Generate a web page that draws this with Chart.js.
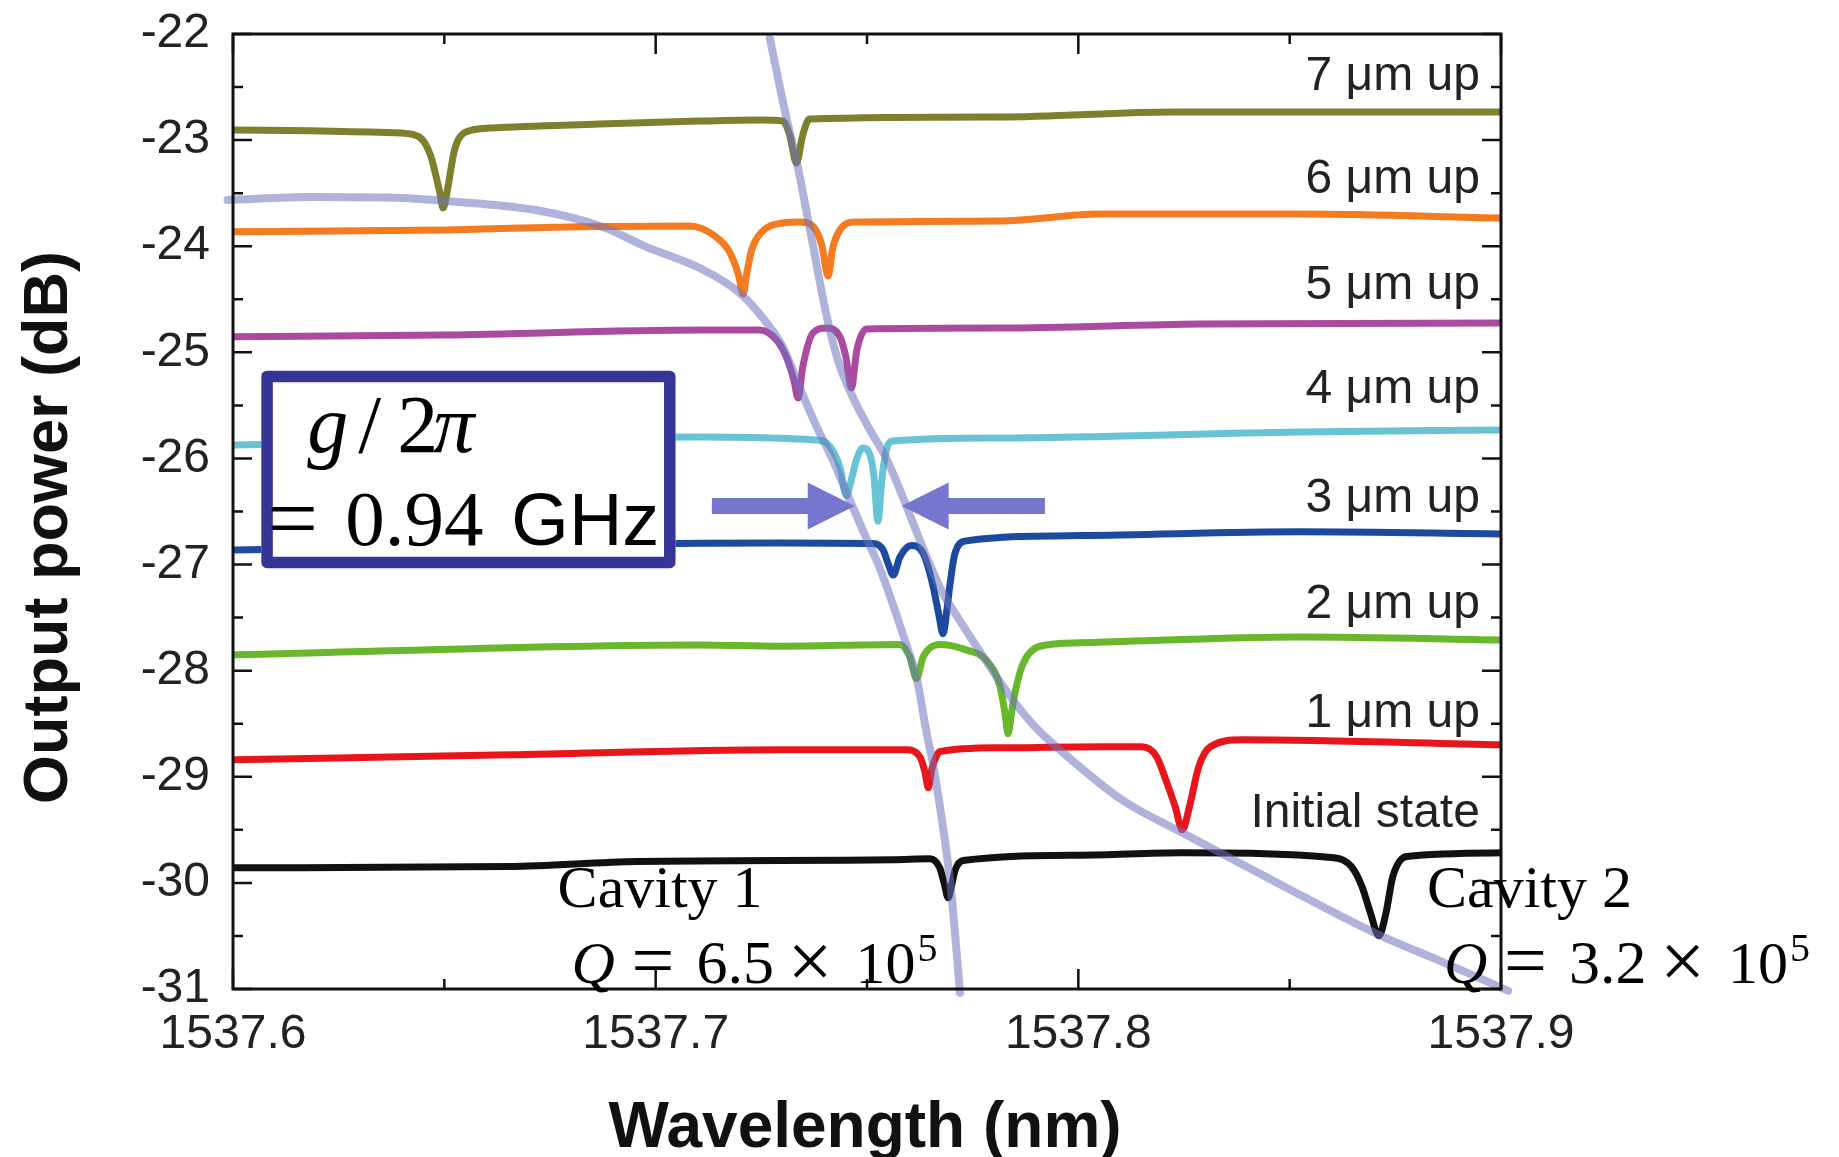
<!DOCTYPE html>
<html>
<head>
<meta charset="utf-8">
<title>Output power vs wavelength</title>
<script src="https://cdn.jsdelivr.net/npm/chart.js@4.4.1/dist/chart.umd.min.js"></script>
<style>
  html, body { margin: 0; padding: 0; background: #fff; }
  canvas { display: block; }
</style>
</head>
<body>
<canvas id="spectraChart" width="1839" height="1157"></canvas>
<script>
// Axis ticks
const xTicks = [1537.6, 1537.7, 1537.8, 1537.9];
const xMinorTicks = [1537.65, 1537.75, 1537.85];
const yTicks = [-31, -30, -29, -28, -27, -26, -25, -24, -23, -22];
const yMinorTicks = [-30.5, -29.5, -28.5, -27.5, -26.5, -25.5, -24.5, -23.5, -22.5];

// Trace names, top to bottom, and where each name sits (dB)
const traceNames = ['7 μm up', '6 μm up', '5 μm up', '4 μm up', '3 μm up', '2 μm up', '1 μm up', 'Initial state'];
const nameLevels = [-22.53, -23.5, -24.5, -25.48, -26.5, -27.5, -28.53, -29.47];

// Transmission spectra (wavelength nm / output dB)
const wl7 = [1537.6000, 1537.6399, 1537.6441, 1537.6467, 1537.6489, 1537.6497, 1537.6508, 1537.6524, 1537.6550, 1537.6609, 1537.6867, 1537.7104, 1537.7246, 1537.7301, 1537.7317, 1537.7333, 1537.7348, 1537.7364, 1537.7814, 1537.8226, 1537.9000];
const db7 = [-22.905, -22.934, -22.971, -23.141, -23.489, -23.640, -23.452, -23.094, -22.925, -22.886, -22.849, -22.821, -22.811, -22.821, -22.953, -23.216, -22.953, -22.802, -22.783, -22.736, -22.736];

const wl6 = [1537.6000, 1537.6503, 1537.6820, 1537.7080, 1537.7140, 1537.7175, 1537.7196, 1537.7207, 1537.7215, 1537.7227, 1537.7251, 1537.7301, 1537.7341, 1537.7374, 1537.7393, 1537.7408, 1537.7419, 1537.7436, 1537.7471, 1537.7814, 1537.8051, 1537.8524, 1537.9000];
const db6 = [-23.863, -23.847, -23.816, -23.810, -23.904, -24.055, -24.271, -24.450, -24.271, -24.036, -23.866, -23.781, -23.772, -23.819, -23.989, -24.281, -24.017, -23.847, -23.772, -23.763, -23.697, -23.697, -23.734];

const wl5 = [1537.6000, 1537.6503, 1537.7104, 1537.7246, 1537.7286, 1537.7309, 1537.7327, 1537.7337, 1537.7348, 1537.7372, 1537.7404, 1537.7436, 1537.7450, 1537.7463, 1537.7476, 1537.7499, 1537.7814, 1537.8288, 1537.9000];
const db5 = [-24.853, -24.837, -24.790, -24.790, -24.884, -25.044, -25.261, -25.430, -25.138, -24.818, -24.771, -24.855, -25.044, -25.336, -24.978, -24.780, -24.771, -24.733, -24.724];

const wl4 = [1537.6000, 1537.7104, 1537.7380, 1537.7404, 1537.7436, 1537.7451, 1537.7464, 1537.7475, 1537.7490, 1537.7507, 1537.7516, 1537.7526, 1537.7535, 1537.7546, 1537.7561, 1537.7814, 1537.8524, 1537.9000];
const db4 = [-25.873, -25.797, -25.826, -25.854, -26.080, -26.353, -26.184, -26.014, -25.901, -25.967, -26.155, -26.591, -26.203, -25.920, -25.835, -25.807, -25.750, -25.732];

const wl3 = [1537.6000, 1537.7104, 1537.7294, 1537.7514, 1537.7538, 1537.7551, 1537.7562, 1537.7578, 1537.7605, 1537.7633, 1537.7656, 1537.7670, 1537.7680, 1537.7689, 1537.7696, 1537.7708, 1537.7735, 1537.8004, 1537.8524, 1537.9000];
const db3 = [-26.862, -26.799, -26.796, -26.802, -26.862, -27.003, -27.098, -26.928, -26.821, -26.896, -27.198, -27.474, -27.653, -27.427, -27.198, -26.896, -26.777, -26.727, -26.692, -26.711];

const wl2 = [1537.6000, 1537.7104, 1537.7294, 1537.7578, 1537.7601, 1537.7617, 1537.7633, 1537.7672, 1537.7735, 1537.7783, 1537.7814, 1537.7826, 1537.7834, 1537.7843, 1537.7854, 1537.7869, 1537.7909, 1537.8004, 1537.8524, 1537.9000];
const db2 = [-27.851, -27.757, -27.770, -27.753, -27.870, -28.074, -27.870, -27.753, -27.804, -27.905, -28.140, -28.388, -28.595, -28.369, -28.140, -27.936, -27.770, -27.738, -27.682, -27.710];

const wl1 = [1537.6000, 1537.6654, 1537.7294, 1537.7593, 1537.7625, 1537.7637, 1537.7645, 1537.7653, 1537.7660, 1537.7672, 1537.7814, 1537.8051, 1537.8150, 1537.8185, 1537.8207, 1537.8229, 1537.8246, 1537.8263, 1537.8285, 1537.8313, 1537.8386, 1537.9000];
const db1 = [-28.840, -28.793, -28.746, -28.746, -28.812, -28.953, -29.104, -28.935, -28.847, -28.763, -28.727, -28.718, -28.718, -28.809, -29.029, -29.280, -29.500, -29.280, -28.903, -28.715, -28.652, -28.699];

const wl0 = [1537.6000, 1537.6654, 1537.6957, 1537.7561, 1537.7649, 1537.7672, 1537.7683, 1537.7692, 1537.7701, 1537.7708, 1537.7727, 1537.8004, 1537.8245, 1537.8605, 1537.8646, 1537.8671, 1537.8691, 1537.8711, 1537.8728, 1537.8744, 1537.8777, 1537.9000];
const db0 = [-29.858, -29.846, -29.798, -29.782, -29.773, -29.858, -30.009, -30.140, -30.009, -29.886, -29.789, -29.739, -29.717, -29.764, -29.846, -30.034, -30.282, -30.498, -30.282, -29.940, -29.751, -29.717];

// Anticrossing branches traced through the resonance dips
const wlBranchA = [1537.5987, 1537.6186, 1537.6399, 1537.6503, 1537.6716, 1537.6875, 1537.6979, 1537.7104, 1537.7199, 1537.7263, 1537.7301, 1537.7341, 1537.7381, 1537.7419, 1537.7452, 1537.7499, 1537.7530, 1537.7594, 1537.7618, 1537.7641, 1537.7656, 1537.7679, 1537.7696, 1537.7708, 1537.7720];
const dbBranchA = [-23.565, -23.537, -23.546, -23.574, -23.659, -23.819, -24.008, -24.205, -24.441, -24.724, -24.950, -25.336, -25.703, -26.014, -26.325, -26.758, -27.031, -27.766, -28.077, -28.586, -28.878, -29.453, -29.961, -30.461, -31.035];
const wlBranchB = [1537.7270, 1537.7309, 1537.7333, 1537.7364, 1537.7404, 1537.7431, 1537.7464, 1537.7507, 1537.7544, 1537.7578, 1537.7608, 1537.7641, 1537.7679, 1537.7720, 1537.7783, 1537.7845, 1537.7902, 1537.7956, 1537.8103, 1537.8246, 1537.8524, 1537.8711, 1537.8850, 1537.9017];
const dbBranchB = [-22.039, -22.783, -23.188, -23.819, -24.648, -25.072, -25.402, -25.732, -25.986, -26.297, -26.598, -26.928, -27.267, -27.531, -27.917, -28.275, -28.548, -28.746, -29.217, -29.528, -30.112, -30.489, -30.725, -31.017];

// Annotations
const cavityNames = ['Cavity 1', 'Cavity 2'];
const cavityQ = ['6.5', '3.2'];
const couplingText = ['g', '/', '2', 'π', '=', '0.94', 'GHz'];

const SANS = '"Liberation Sans", Arial, sans-serif';
const SERIF = '"Liberation Serif", "Times New Roman", serif';

const spectra = [
  { wl: wl7, db: db7, color: '#7f7f2d' },
  { wl: wl6, db: db6, color: '#f47b20' },
  { wl: wl5, db: db5, color: '#aa4ba0' },
  { wl: wl4, db: db4, color: '#68c3d4' },
  { wl: wl3, db: db3, color: '#1d4a9e' },
  { wl: wl2, db: db2, color: '#69b72d' },
  { wl: wl1, db: db1, color: '#e8161b' },
  { wl: wl0, db: db0, color: '#111111' }
];

const toPoints = (wl, db) => wl.map((x, i) => ({ x: x, y: db[i] }));

const datasets = spectra.map(s => ({
  data: toPoints(s.wl, s.db),
  borderColor: s.color,
  borderWidth: 7,
  pointRadius: 0,
  cubicInterpolationMode: 'monotone',
  order: 1
}));

[[wlBranchA, dbBranchA], [wlBranchB, dbBranchB]].forEach(([wl, db]) => {
  datasets.push({
    data: toPoints(wl, db),
    borderColor: 'rgba(110, 115, 190, 0.55)',
    borderWidth: 8,
    pointRadius: 0,
    cubicInterpolationMode: 'monotone',
    clip: false,
    order: 0
  });
});

// Frame, inward ticks, box, arrows and text
const decor = {
  id: 'decor',
  afterDatasetsDraw(chart) {
    const { ctx, chartArea: area, scales: { x, y } } = chart;
    ctx.save();

    // g/2π box
    const bx = x.getPixelForValue(1537.6067);
    const by = y.getPixelForValue(-25.173);
    const bw = x.getPixelForValue(1537.7047) - bx;
    const bh = y.getPixelForValue(-27.034) - by;
    ctx.fillStyle = '#fff';
    ctx.fillRect(bx, by, bw, bh);
    ctx.lineWidth = 11.5;
    ctx.lineJoin = 'round';
    ctx.strokeStyle = '#353597';
    ctx.strokeRect(bx + 5.75, by + 5.75, bw - 11.5, bh - 11.5);

    ctx.fillStyle = '#000';
    ctx.textAlign = 'left';
    ctx.textBaseline = 'alphabetic';
    ctx.font = 'italic 82px ' + SERIF;
    ctx.fillText(couplingText[0], bx + 46, by + 81);
    ctx.font = '82px ' + SERIF;
    ctx.fillText(couplingText[1], bx + 97, by + 81);
    ctx.fillText(couplingText[2], bx + 136, by + 81);
    ctx.font = 'italic 82px ' + SERIF;
    ctx.fillText(couplingText[3], bx + 172, by + 81);
    ctx.font = '90px ' + SERIF;
    ctx.fillText(couplingText[4], bx + 6, by + 178);
    ctx.font = '79px ' + SERIF;
    ctx.fillText(couplingText[5], bx + 84, by + 174);
    ctx.font = '74px ' + SANS;
    ctx.fillText(couplingText[6], bx + 250, by + 174);

    // arrows pointing at the split
    ctx.fillStyle = '#7676cf';
    const arrow = (tailWl, tipWl, atDb) => {
      const sx = x.getPixelForValue(tailWl), tx = x.getPixelForValue(tipWl), cy = y.getPixelForValue(atDb);
      const base = tx - Math.sign(tx - sx) * 47;
      ctx.beginPath();
      ctx.moveTo(sx, cy - 8);
      ctx.lineTo(base, cy - 8);
      ctx.lineTo(base, cy - 23.5);
      ctx.lineTo(tx, cy);
      ctx.lineTo(base, cy + 23.5);
      ctx.lineTo(base, cy + 8);
      ctx.lineTo(sx, cy + 8);
      ctx.closePath();
      ctx.fill();
    };
    arrow(1537.7133, 1537.7471, -26.447);
    arrow(1537.7921, 1537.7582, -26.447);

    // frame
    ctx.strokeStyle = '#111';
    ctx.lineWidth = 3;
    ctx.lineJoin = 'miter';
    ctx.strokeRect(area.left, area.top, area.right - area.left, area.bottom - area.top);

    // ticks pointing into the plot
    ctx.lineWidth = 2.5;
    ctx.beginPath();
    const yTick = (v, len) => {
      const py = y.getPixelForValue(v);
      ctx.moveTo(area.left, py); ctx.lineTo(area.left + len, py);
      ctx.moveTo(area.right, py); ctx.lineTo(area.right - len, py);
    };
    const xTick = (v, len) => {
      const px = x.getPixelForValue(v);
      ctx.moveTo(px, area.top); ctx.lineTo(px, area.top + len);
      ctx.moveTo(px, area.bottom); ctx.lineTo(px, area.bottom - len);
    };
    yTicks.forEach(v => yTick(v, 19));
    yMinorTicks.forEach(v => yTick(v, 10));
    xTicks.forEach(v => xTick(v, 20));
    xMinorTicks.forEach(v => xTick(v, 10));
    ctx.stroke();

    // trace names
    ctx.fillStyle = '#222';
    ctx.font = '48px ' + SANS;
    ctx.textAlign = 'right';
    traceNames.forEach((name, i) => {
      ctx.fillText(name, x.getPixelForValue(1537.895), y.getPixelForValue(nameLevels[i]));
    });

    // cavity labels with Q factors
    ctx.fillStyle = '#000';
    ctx.textAlign = 'left';
    const cavity = (i, nameWl, qWl) => {
      const nameY = y.getPixelForValue(-30.225);
      const qx = x.getPixelForValue(qWl), qy = y.getPixelForValue(-30.941);
      ctx.font = '60px ' + SERIF;
      ctx.fillText(cavityNames[i], x.getPixelForValue(nameWl), nameY);
      ctx.font = 'italic 60px ' + SERIF;
      ctx.fillText('Q', qx, qy);
      ctx.font = '76px ' + SERIF;
      ctx.fillText('=', qx + 60, qy + 3);
      ctx.font = '62px ' + SERIF;
      ctx.fillText(cavityQ[i], qx + 125, qy);
      ctx.font = '80px ' + SERIF;
      ctx.fillText('×', qx + 216, qy + 5);
      ctx.font = '60px ' + SERIF;
      ctx.fillText('10', qx + 284, qy);
      ctx.font = '40px ' + SERIF;
      ctx.fillText('5', qx + 346, qy - 22);
    };
    cavity(0, 1537.6768, 1537.6801);
    cavity(1, 1537.8825, 1537.8865);

    // axis titles
    ctx.fillStyle = '#111';
    ctx.font = 'bold 64px ' + SANS;
    ctx.textAlign = 'center';
    ctx.fillText('Wavelength (nm)', (area.left + area.right) / 2 - 2, area.bottom + 158);
    ctx.translate(67, (area.top + area.bottom) / 2 + 16);
    ctx.rotate(-Math.PI / 2);
    ctx.font = 'bold 63px ' + SANS;
    ctx.fillText('Output power (dB)', 0, 0);

    ctx.restore();
  }
};

const ctx = document.getElementById('spectraChart').getContext('2d');
const spectraChart = new Chart(ctx, {
  type: 'line',
  data: { datasets: datasets },
  options: {
    responsive: false,
    animation: false,
    devicePixelRatio: 1,
    layout: { padding: { left: 0, top: 34, right: 338, bottom: 0 } },
    plugins: { legend: { display: false }, tooltip: { enabled: false } },
    elements: { line: { borderJoinStyle: 'round', borderCapStyle: 'round' } },
    scales: {
      x: {
        type: 'linear',
        min: 1537.6,
        max: 1537.9,
        afterBuildTicks: s => { s.ticks = xTicks.map(v => ({ value: v })); },
        afterFit: s => { s.height = 168; },
        grid: { display: false, drawTicks: false },
        border: { display: false },
        ticks: {
          padding: 17,
          color: '#222',
          font: { family: SANS, size: 48 },
          maxRotation: 0,
          autoSkip: false,
          callback: v => v.toFixed(1)
        }
      },
      y: {
        type: 'linear',
        min: -31,
        max: -22,
        afterBuildTicks: s => { s.ticks = yTicks.map(v => ({ value: v })); },
        // fixed axis width, and no extra room for the end labels
        afterFit: s => { s.width = 233; s.paddingTop = 0; s.paddingBottom = 0; },
        grid: { display: false, drawTicks: false },
        border: { display: false },
        ticks: {
          padding: 23,
          color: '#222',
          font: { family: SANS, size: 48 },
          autoSkip: false,
          callback: v => String(v)
        }
      }
    }
  },
  plugins: [decor]
});
</script>
</body>
</html>
